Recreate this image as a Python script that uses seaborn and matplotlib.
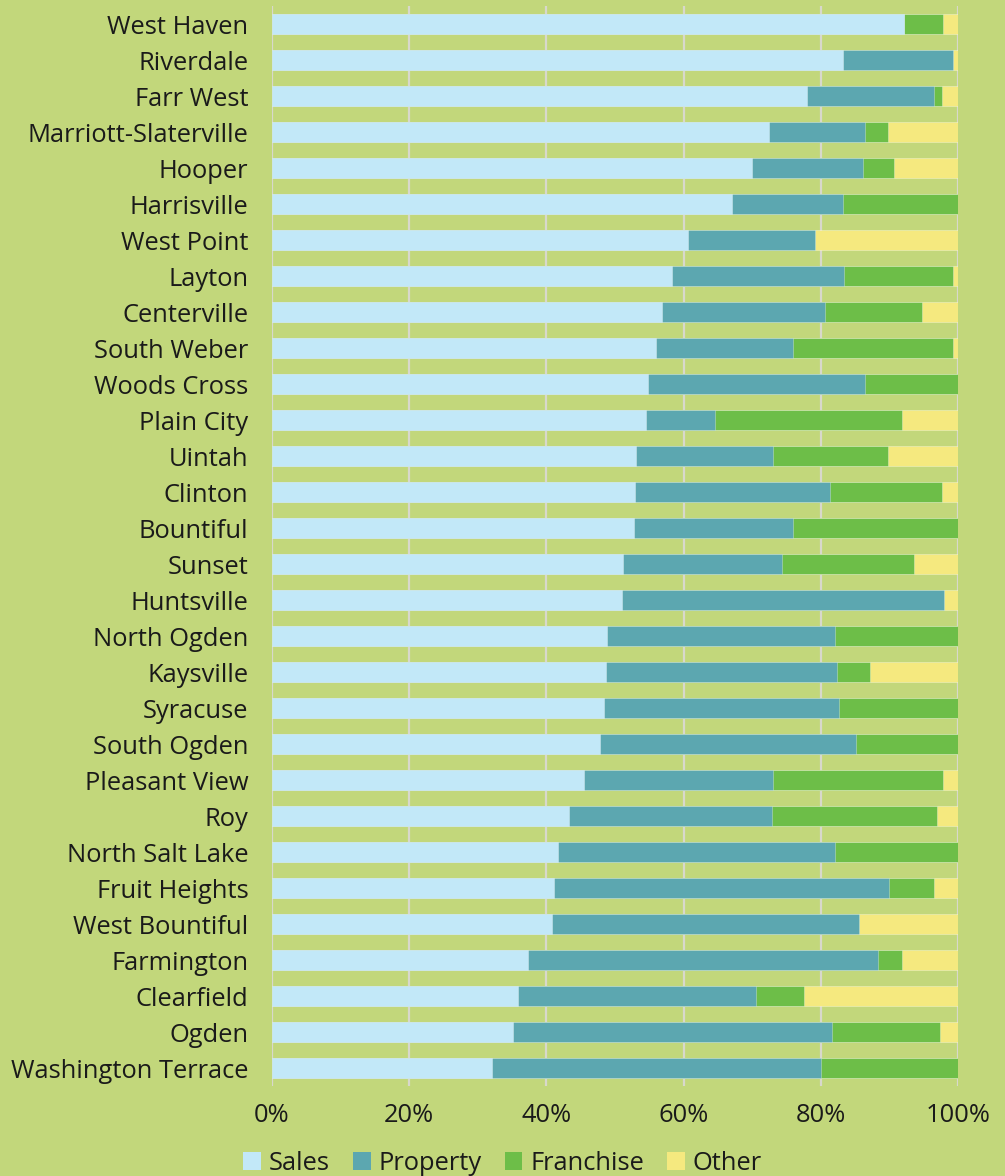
import matplotlib
matplotlib.use("Agg")
import matplotlib.pyplot as plt
from matplotlib.patches import Patch
from matplotlib.ticker import FuncFormatter
import numpy as np
import pandas as pd
import seaborn as sns

cities = ["West Haven", "Riverdale", "Farr West", "Marriott-Slaterville", "Hooper",
          "Harrisville", "West Point", "Layton", "Centerville", "South Weber",
          "Woods Cross", "Plain City", "Uintah", "Clinton", "Bountiful",
          "Sunset", "Huntsville", "North Ogden", "Kaysville", "Syracuse",
          "South Ogden", "Pleasant View", "Roy", "North Salt Lake", "Fruit Heights",
          "West Bountiful", "Farmington", "Clearfield", "Ogden", "Washington Terrace"]

sales = [92.2, 83.2, 78.0, 72.4, 70.0, 67.1, 60.7, 58.3, 56.9, 56.0,
         54.8, 54.5, 53.1, 52.9, 52.7, 51.2, 51.0, 48.9, 48.7, 48.4,
         47.8, 45.5, 43.3, 41.7, 41.1, 40.8, 37.3, 35.9, 35.2, 32.1]
property_ = [0.0, 16.0, 18.5, 14.0, 16.2, 16.2, 18.4, 25.1, 23.7, 20.0,
             31.6, 10.1, 19.9, 28.5, 23.2, 23.1, 47.0, 33.2, 33.6, 34.3,
             37.3, 27.5, 29.6, 40.3, 48.8, 44.8, 51.1, 34.6, 46.5, 48.0]
franchise = [5.6, 0.0, 1.2, 3.4, 4.5, 16.7, 0.0, 15.8, 14.2, 23.3,
             13.6, 27.2, 16.8, 16.3, 24.1, 19.3, 0.0, 17.9, 4.8, 17.3,
             14.9, 24.8, 24.0, 18.0, 6.6, 0.0, 3.4, 7.1, 15.7, 19.9]
other = [2.2, 0.8, 2.3, 10.2, 9.3, 0.0, 20.9, 0.8, 5.2, 0.7,
         0.0, 8.2, 10.2, 2.3, 0.0, 6.4, 2.0, 0.0, 12.9, 0.0,
         0.0, 2.2, 3.1, 0.0, 3.5, 14.4, 8.2, 22.4, 2.6, 0.0]

series = ["Sales", "Property", "Franchise", "Other"]
colors = ["#c2e8f8", "#5ca7b0", "#6dbe48", "#f5e97f"]
bg = "#c2d77b"

df = pd.DataFrame({"city": cities, "Sales": sales, "Property": property_,
                   "Franchise": franchise, "Other": other})
cum = df[series].cumsum(axis=1)
cum["city"] = df["city"]

sns.set_style("white")
plt.rcParams["font.family"] = ["Open Sans", "DejaVu Sans"]
plt.rcParams["text.color"] = "#1a1a1a"

fig = plt.figure(figsize=(10.05, 11.76), dpi=100, facecolor=bg)
ax = fig.add_axes([272 / 1005, 1 - 1086 / 1176, 686 / 1005, 1080 / 1176])
ax.set_facecolor(bg)
ax.set_axisbelow(True)

# draw cumulative layers back to front so each segment shows
for name, col in reversed(list(zip(series, colors))):
    sns.barplot(data=cum, y="city", x=name, orient="h", color=col, width=0.56,
                edgecolor=(1, 1, 1, 0.35), linewidth=0.6, ax=ax, saturation=1)

ax.set_xlim(0, 100)
ax.set_xticks(np.arange(0, 101, 20))
ax.xaxis.set_major_formatter(FuncFormatter(lambda v, p: f"{v:.0f}%"))
ax.xaxis.grid(True, color="#d8d8cc", linewidth=1.6)
ax.yaxis.grid(False)
for s in ax.spines.values():
    s.set_visible(False)
ax.tick_params(axis="both", length=0, labelsize=18.4, colors="#1a1a1a")
ax.tick_params(axis="x", pad=12)
ax.tick_params(axis="y", pad=17)
ax.set_xlabel("")
ax.set_ylabel("")

handles = [Patch(facecolor=c, edgecolor="none", label=n) for n, c in zip(series, colors)]
fig.legend(handles=handles, loc="center", bbox_to_anchor=(0.5, 0.011), ncol=4,
           frameon=False, fontsize=18.4, handlelength=0.7, handleheight=0.7,
           handletextpad=0.3, columnspacing=0.9)

fig.savefig("out.png", dpi=100, facecolor=bg)
